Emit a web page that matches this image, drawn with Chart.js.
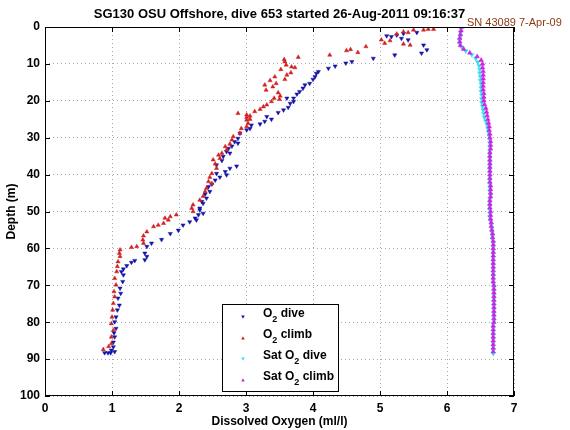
<!DOCTYPE html>
<html>
<head>
<title>SG130 dive 653 dissolved oxygen</title>
<script src="https://cdn.jsdelivr.net/npm/chart.js"></script>
<style>
  body { margin: 0; background: #fff; }
</style>
</head>
<body>
<canvas id="o2Chart" width="570" height="430"></canvas>
<script>
const titleText = "SG130 OSU Offshore, dive 653 started 26-Aug-2011 09:16:37";
const snText = "SN 43089 7-Apr-09";
const xLabel = "Dissolved Oxygen (ml/l)";
const yLabel = "Depth (m)";
const xTicks = [0, 1, 2, 3, 4, 5, 6, 7];
const depthTicks = [0, 10, 20, 30, 40, 50, 60, 70, 80, 90, 100];

// legend text: before subscript, subscript, after
const legendNames = [["O", "2", " dive"], ["O", "2", " climb"], ["Sat O", "2", " dive"], ["Sat O", "2", " climb"]];

// O2 measured on the dive (m, ml/l)
const diveDepth = [1.5,1.8,2.2,2.4,2.6,3.1,3.5,4.9,6.2,7.1,
  7.6,8.5,9.4,9.8,10.6,11.2,12.1,12.6,13.5,14.2,
  15.3,15.7,16.6,17.5,18.2,19.3,19.3,20.2,20.7,21.8,
  22.5,23.2,24.3,25.0,25.6,26.3,26.6,27.5,27.9,28.8,
  30.2,31.1,31.5,32.3,32.9,33.8,34.2,35.1,36.2,37.4,
  37.7,38.3,39.2,39.7,40.1,40.7,41.5,42.6,43.3,44.6,
  45.3,46.4,47.3,47.8,49.1,49.6,50.5,50.9,51.8,52.3,
  52.8,53.7,55.1,56.0,57.6,58.6,59.5,61.3,62.2,63.1,
  63.3,63.8,64.7,65.6,66.3,67.2,69.0,70.8,72.2,73.5,
  75.4,76.7,78.6,79.9,81.7,82.9,84.0,85.4,86.7,87.6,
  88.0,88.3,88.3,88.3];
const diveO2 = [5.55,5.35,5.25,5.10,5.17,5.32,5.42,5.65,5.70,5.62,
  5.22,4.90,4.58,4.49,4.33,4.23,4.08,4.05,4.03,4.00,
  3.95,3.88,3.85,3.80,3.76,3.61,3.71,3.71,3.66,3.63,
  3.56,3.48,3.31,3.38,3.28,3.21,3.08,3.06,3.01,2.91,
  2.88,2.83,2.88,2.79,2.74,2.71,2.76,2.66,2.64,2.56,
  2.86,2.76,2.69,2.56,2.71,2.61,2.54,2.49,2.44,2.46,
  2.39,2.41,2.34,2.36,2.31,2.31,2.36,2.29,2.24,2.26,
  2.16,2.06,1.99,1.87,1.74,1.59,1.52,1.49,1.52,1.49,
  1.34,1.29,1.22,1.17,1.14,1.17,1.16,1.12,1.13,1.09,
  1.11,1.08,1.06,1.04,1.06,1.03,1.04,1.02,1.02,0.99,
  1.04,0.94,0.89,0.98];

// O2 measured on the climb
const climbDepth = [0.6,0.6,0.8,0.8,1.3,1.5,1.9,3.5,3.7,4.4,
  4.6,4.9,5.3,6.1,6.4,6.9,7.6,8.2,8.8,9.4,
  10.3,10.8,11.0,11.5,12.4,13.0,13.5,14.2,14.5,15.3,
  15.7,16.2,17.1,17.8,18.7,19.3,19.6,20.2,21.1,21.6,
  22.3,22.9,23.4,23.8,24.1,24.5,25.0,25.2,26.1,27.0,
  27.5,28.8,29.7,30.6,31.7,32.4,33.3,34.2,34.7,35.6,
  36.0,37.1,38.3,39.7,40.7,41.9,42.4,43.7,44.6,45.9,
  46.9,48.2,49.1,50.0,50.9,51.4,51.8,52.3,53.2,53.7,
  54.1,55.5,56.6,57.7,58.6,59.5,59.7,60.4,61.3,62.2,
  63.6,64.9,66.3,68.1,69.9,71.7,73.1,74.9,76.7,78.6,
  80.4,82.2,84.0,85.8,86.6,87.4];
const climbO2 = [5.72,5.80,5.65,5.50,5.35,5.42,5.25,5.02,5.15,5.07,
  5.35,5.45,4.79,4.56,4.50,4.67,4.25,3.78,3.57,3.58,
  3.60,3.68,3.73,3.52,3.67,3.61,3.43,3.58,3.36,3.45,
  3.28,3.40,3.30,3.48,3.51,3.42,3.50,3.38,3.31,3.26,
  3.21,3.13,2.88,3.01,3.06,3.01,3.06,3.01,3.03,3.01,
  2.93,2.91,2.81,2.79,2.76,2.69,2.71,2.64,2.59,2.61,
  2.51,2.54,2.56,2.49,2.46,2.44,2.49,2.41,2.39,2.36,
  2.31,2.21,2.19,2.21,1.96,1.87,1.79,1.84,1.77,1.69,
  1.62,1.52,1.47,1.46,1.47,1.37,1.29,1.12,1.11,1.12,
  1.09,1.08,1.07,1.04,1.06,1.03,1.04,1.02,1.01,1.00,
  0.99,1.02,0.99,0.99,0.95,0.87];

// saturation O2 on the dive
const satDiveDepth = [0.5,1.5,2.5,3.5,4.5,5.5,6.5,7.5,8.5,9.5,
  10.5,11.5,12.5,13.5,14.5,15.5,16.5,17.5,18.5,19.5,
  20.5,21.5,22.5,23.5,24.5,25.5,26.5,27.5,28.5,29.5,
  30.5,31.5,32.5,33.5,34.5,35.5,36.5,37.5,38.5,39.5,
  40.5,41.5,42.5,43.5,44.5,45.5,46.5,47.5,48.5,49.5,
  50.5,51.5,52.5,53.5,54.5,55.5,56.5,57.5,58.5,59.5,
  60.5,61.5,62.5,63.5,64.5,65.5,66.5,67.5,68.5,69.5,
  70.5,71.5,72.5,73.5,74.5,75.5,76.5,77.5,78.5,79.5,
  80.5,81.5,82.5,83.5,84.5,85.5,86.5,87.5,88.5];
const satDiveO2 = [6.21,6.20,6.20,6.19,6.19,6.22,6.28,6.37,6.43,6.46,
  6.48,6.49,6.49,6.50,6.50,6.51,6.51,6.51,6.52,6.52,
  6.52,6.53,6.54,6.55,6.56,6.58,6.60,6.61,6.62,6.63,
  6.64,6.64,6.64,6.64,6.64,6.64,6.64,6.64,6.64,6.64,
  6.64,6.64,6.64,6.64,6.64,6.65,6.64,6.64,6.64,6.64,
  6.64,6.64,6.65,6.66,6.67,6.67,6.68,6.68,6.69,6.69,
  6.69,6.69,6.69,6.69,6.69,6.69,6.69,6.69,6.69,6.69,
  6.70,6.70,6.70,6.70,6.70,6.70,6.70,6.70,6.70,6.70,
  6.69,6.69,6.69,6.69,6.69,6.69,6.69,6.69,6.69];

// saturation O2 on the climb
const satClimbDepth = [0,1,2,3,4,5,6,7,8,9,
  10,11,12,13,14,15,16,17,18,19,
  20,21,22,23,24,25,26,27,28,29,
  30,31,32,33,34,35,36,37,38,39,
  40,41,42,43,44,45,46,47,48,49,
  50,51,52,53,54,55,56,57,58,59,
  60,61,62,63,64,65,66,67,68,69,
  70,71,72,73,74,75,76,77,78,79,
  80,81,82,83,84,85,86,87,88];
const satClimbO2 = [6.22,6.21,6.20,6.19,6.19,6.20,6.25,6.34,6.45,6.51,
  6.53,6.53,6.54,6.54,6.54,6.54,6.54,6.54,6.55,6.55,
  6.55,6.56,6.58,6.59,6.60,6.61,6.62,6.63,6.63,6.64,
  6.64,6.65,6.65,6.65,6.64,6.64,6.64,6.64,6.64,6.64,
  6.64,6.64,6.64,6.65,6.65,6.65,6.65,6.64,6.64,6.64,
  6.65,6.65,6.65,6.66,6.66,6.67,6.68,6.68,6.69,6.69,
  6.69,6.69,6.69,6.69,6.69,6.69,6.69,6.69,6.69,6.69,
  6.70,6.70,6.70,6.70,6.70,6.70,6.70,6.70,6.70,6.70,
  6.70,6.69,6.69,6.69,6.69,6.69,6.69,6.69,6.69];

const colors = ["#1414a8", "#d02020", "#30e0f0", "#d020e0"];
const FONT = "'Liberation Sans', Arial, Helvetica, sans-serif";

function pts(depths, vals) {
  return depths.map((d, i) => ({ x: vals[i], y: d }));
}

function tri(ctx, x, y, r, down) {
  const s = down ? -1 : 1;
  ctx.beginPath();
  ctx.moveTo(x, y - s * r);
  ctx.lineTo(x - r, y + s * r * 0.8);
  ctx.lineTo(x + r, y + s * r * 0.8);
  ctx.closePath();
  ctx.fill();
}

const paper = {
  id: "paper",
  beforeDraw(chart) {
    const ctx = chart.ctx;
    ctx.save();
    ctx.fillStyle = "#fff";
    ctx.fillRect(0, 0, chart.width, chart.height);
    ctx.restore();
  },
  afterDraw(chart) {
    const ctx = chart.ctx;
    const xs = chart.scales.x, ys = chart.scales.y;
    const { left, right, top, bottom } = chart.chartArea;
    ctx.save();
    ctx.strokeStyle = "#000";
    ctx.lineWidth = 1;
    ctx.strokeRect(left + 0.5, top + 0.5, right - left - 1, bottom - top - 1);
    ctx.beginPath();
    xTicks.forEach(v => {
      const px = Math.round(xs.getPixelForValue(v)) + 0.5;
      ctx.moveTo(px, bottom); ctx.lineTo(px, bottom - 5);
      ctx.moveTo(px, top); ctx.lineTo(px, top + 5);
    });
    depthTicks.forEach(v => {
      const py = Math.round(ys.getPixelForValue(v)) + 0.5;
      ctx.moveTo(left, py); ctx.lineTo(left + 5, py);
      ctx.moveTo(right, py); ctx.lineTo(right - 5, py);
    });
    ctx.stroke();

    // title and labels
    ctx.fillStyle = "#000";
    ctx.textAlign = "center";
    ctx.textBaseline = "middle";
    ctx.font = "bold 13px " + FONT;
    ctx.fillText(titleText, (left + right) / 2, 14);
    ctx.font = "bold 12px " + FONT;
    ctx.fillText(xLabel, (left + right) / 2, 422);
    ctx.save();
    ctx.translate(12, (top + bottom) / 2);
    ctx.rotate(-Math.PI / 2);
    ctx.fillText(yLabel, 0, 0);
    ctx.restore();

    ctx.fillStyle = "#8b3a14";
    ctx.textAlign = "left";
    ctx.font = "11px " + FONT;
    ctx.fillText(snText, 467, 23);

    // legend box
    const bx = 222, by = 304, bw = 116, bh = 87;
    ctx.fillStyle = "#fff";
    ctx.fillRect(bx, by, bw, bh);
    ctx.strokeStyle = "#000";
    ctx.strokeRect(bx + 0.5, by + 0.5, bw, bh);
    legendNames.forEach((n, i) => {
      const y = by + 10 + i * 21;
      ctx.fillStyle = colors[i];
      tri(ctx, bx + 21, y + 3, 1.8, i % 2 === 0);
      ctx.fillStyle = "#000";
      let x = bx + 41;
      ctx.font = "bold 12px " + FONT;
      ctx.fillText(n[0], x, y);
      x += ctx.measureText(n[0]).width;
      ctx.font = "bold 9px " + FONT;
      ctx.fillText(n[1], x, y + 6);
      x += ctx.measureText(n[1]).width;
      ctx.font = "bold 12px " + FONT;
      ctx.fillText(n[2], x, y);
    });
    ctx.restore();
  }
};

function series(depths, vals, color, down, order, radius) {
  return {
    data: pts(depths, vals),
    pointStyle: "triangle",
    rotation: down ? 180 : 0,
    pointRadius: radius,
    backgroundColor: color,
    borderColor: color,
    borderWidth: 0.5,
    order: order
  };
}

new Chart(document.getElementById("o2Chart").getContext("2d"), {
  type: "scatter",
  data: {
    datasets: [
      series(diveDepth, diveO2, colors[0], true, 3, 2.4),
      series(climbDepth, climbO2, colors[1], false, 2, 2.4),
      series(satDiveDepth, satDiveO2, colors[2], true, 1, 2.6),
      series(satClimbDepth, satClimbO2, colors[3], false, 0, 2.6)
    ]
  },
  options: {
    responsive: false,
    animation: false,
    layout: { padding: { top: 27, right: 56, left: 0, bottom: 0 } },
    plugins: { legend: { display: false }, tooltip: { enabled: false } },
    scales: {
      x: {
        type: "linear", min: 0, max: 7,
        afterFit: s => { s.height = 34; },
        afterBuildTicks: s => { s.ticks = xTicks.map(v => ({ value: v })); },
        ticks: { color: "#000", padding: 5, font: { family: FONT, size: 12, weight: "bold" } },
        grid: { color: "#a8a8a8", drawTicks: false },
        border: { display: false, dash: [1, 3] }
      },
      y: {
        type: "linear", min: 0, max: 100, reverse: true,
        afterFit: s => { s.width = 45; },
        afterBuildTicks: s => { s.ticks = depthTicks.map(v => ({ value: v })); },
        ticks: { color: "#000", padding: 5, font: { family: FONT, size: 12, weight: "bold" } },
        grid: { color: "#a8a8a8", drawTicks: false },
        border: { display: false, dash: [1, 3] }
      }
    }
  },
  plugins: [paper]
});
</script>
</body>
</html>
